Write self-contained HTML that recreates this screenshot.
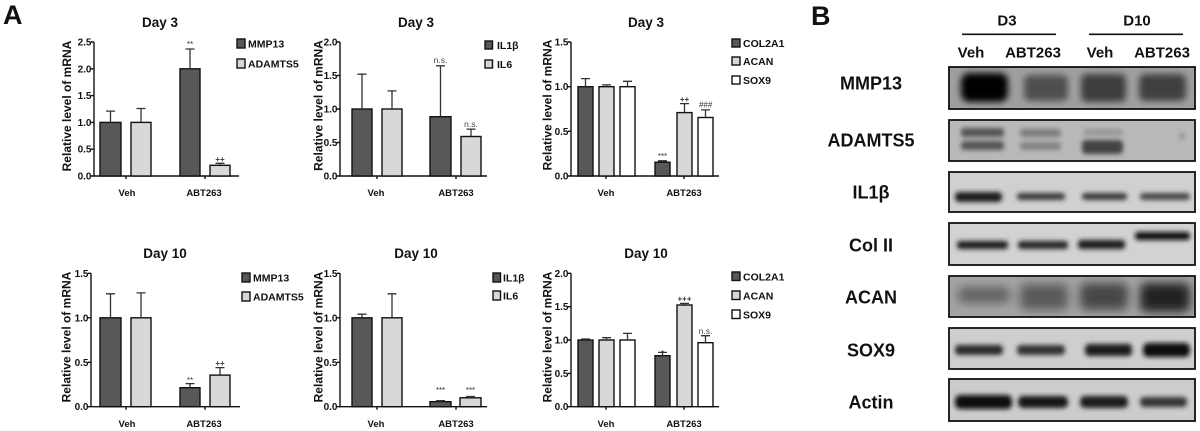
<!DOCTYPE html>
<html><head><meta charset="utf-8"><style>
html,body{margin:0;padding:0;background:#fff;}
svg{display:block;}
text{font-family:"Liberation Sans",Arial,sans-serif;}
.b{font-weight:bold;}
.tt{font-size:13.5px;font-weight:bold;text-anchor:middle;fill:#111;}
.tk{font-size:10px;font-weight:bold;text-anchor:end;fill:#111;}
.xl{font-size:9.5px;font-weight:bold;text-anchor:middle;fill:#111;}
.lg{font-size:10.5px;font-weight:bold;fill:#111;}
.yl{font-size:12px;font-weight:bold;text-anchor:middle;fill:#111;}
.sg{font-size:8px;text-anchor:middle;fill:#333;}
.ns{font-size:8.5px;text-anchor:middle;fill:#444;}
.ax{stroke:#111;stroke-width:1.4;fill:none;}
.dk{fill:#585858;stroke:#111;stroke-width:1.4;}
.lt{fill:#d8d8d8;stroke:#111;stroke-width:1.4;}
.wh{fill:#fff;stroke:#111;stroke-width:1.4;}
.eb{stroke:#333;stroke-width:1.3;fill:none;}
.wl{font-size:18px;font-weight:bold;text-anchor:middle;fill:#111;}
.wh2{font-size:15px;font-weight:bold;text-anchor:middle;fill:#111;}
.box{fill:none;stroke:#111;stroke-width:1.8;}
</style></head><body>
<svg width="1200" height="431" viewBox="0 0 1200 431" xmlns="http://www.w3.org/2000/svg">
<defs>
<filter id="f3" x="-50%" y="-100%" width="200%" height="300%"><feGaussianBlur stdDeviation="3.5"/></filter>
<filter id="f2" x="-50%" y="-100%" width="200%" height="300%"><feGaussianBlur stdDeviation="2.3"/></filter>
<filter id="f5" x="-50%" y="-100%" width="200%" height="300%"><feGaussianBlur stdDeviation="5"/></filter>
<clipPath id="c1"><rect x="949" y="67" width="246" height="42"/></clipPath>
<clipPath id="c2"><rect x="949" y="120" width="246" height="41"/></clipPath>
<clipPath id="c3"><rect x="949" y="172" width="246" height="40"/></clipPath>
<clipPath id="c4"><rect x="949" y="223" width="246" height="42"/></clipPath>
<clipPath id="c5"><rect x="949" y="276" width="246" height="41"/></clipPath>
<clipPath id="c6"><rect x="949" y="328" width="246" height="41"/></clipPath>
<clipPath id="c7"><rect x="949" y="379" width="246" height="42"/></clipPath>
</defs>

<!-- Panel labels -->
<text x="3" y="24" font-size="27" class="b" fill="#111">A</text>
<text x="811" y="25" font-size="27" class="b" fill="#111">B</text>

<!-- ===== Top chart 1 ===== -->
<text class="tt" x="160" y="27">Day 3</text>
<text class="yl" transform="translate(71,106) rotate(-90)">Relative level of mRNA</text>
<path class="ax" d="M94,42V176H239M91,42H94M91,68.8H94M91,95.6H94M91,122.4H94M91,149.2H94M91,176H94M126,176V179M205,176V179"/>
<text class="tk" x="91.5" y="45.5">2.5</text>
<text class="tk" x="91.5" y="72.3">2.0</text>
<text class="tk" x="91.5" y="99.1">1.5</text>
<text class="tk" x="91.5" y="125.9">1.0</text>
<text class="tk" x="91.5" y="152.7">0.5</text>
<text class="tk" x="91.5" y="179.5">0.0</text>
<rect class="dk" x="100" y="122.4" width="21" height="53.6"/>
<rect class="lt" x="131" y="122.4" width="20" height="53.6"/>
<rect class="dk" x="180" y="68.8" width="20" height="107.2"/>
<rect class="lt" x="210" y="165.3" width="20" height="10.7"/>
<path class="eb" d="M110.5,122.4V111.1M106,111.1H115M141,122.4V108.5M136.5,108.5H145.5M190,68.8V49M185.5,49H194.5M220,165.3V163.3M215.5,163.3H224.5"/>
<text class="sg" x="190" y="47">**</text>
<text class="sg b" x="220" y="162">++</text>
<text class="xl" x="127" y="196">Veh</text>
<text class="xl" x="204" y="196">ABT263</text>
<rect x="237" y="39" width="8" height="9" class="dk"/>
<text class="lg" x="248" y="47.5">MMP13</text>
<rect x="237" y="59" width="8" height="9" class="lt"/>
<text class="lg" x="248" y="67.5">ADAMTS5</text>

<!-- ===== Top chart 2 ===== -->
<text class="tt" x="416" y="27">Day 3</text>
<text class="yl" transform="translate(322.5,105.5) rotate(-90)">Relative level of mRNA</text>
<path class="ax" d="M340,42V176H487M337,42H340M337,75.5H340M337,109H340M337,142.5H340M337,176H340M377,176V179M456,176V179"/>
<text class="tk" x="337.5" y="45.5">2.0</text>
<text class="tk" x="337.5" y="79">1.5</text>
<text class="tk" x="337.5" y="112.5">1.0</text>
<text class="tk" x="337.5" y="146">0.5</text>
<text class="tk" x="337.5" y="179.5">0.0</text>
<rect class="dk" x="352" y="109" width="20" height="67"/>
<rect class="lt" x="382" y="109" width="20" height="67"/>
<rect class="dk" x="430" y="116.7" width="21" height="59.3"/>
<rect class="lt" x="461" y="136.5" width="20" height="39.5"/>
<path class="eb" d="M362,109V74.2M357.5,74.2H366.5M392,109V90.9M387.5,90.9H396.5M440.5,116.7V65.8M436,65.8H445M471,136.5V129.1M466.5,129.1H475.5"/>
<text class="ns" x="440.5" y="63">n.s.</text>
<text class="ns" x="471" y="127">n.s.</text>
<text class="xl" x="376" y="196">Veh</text>
<text class="xl" x="456" y="196">ABT263</text>
<rect x="485" y="41" width="7.5" height="8" class="dk"/>
<text class="lg" x="497" y="49">IL1β</text>
<rect x="485" y="60" width="7.5" height="8" class="lt"/>
<text class="lg" x="497" y="68">IL6</text>

<!-- ===== Top chart 3 ===== -->
<text class="tt" x="646" y="27">Day 3</text>
<text class="yl" transform="translate(551.5,105) rotate(-90)">Relative level of mRNA</text>
<path class="ax" d="M571,42V176H719M568,42H571M568,86.7H571M568,131.3H571M568,176H571M606,176V179M684,176V179"/>
<text class="tk" x="568.5" y="45.5">1.5</text>
<text class="tk" x="568.5" y="90.2">1.0</text>
<text class="tk" x="568.5" y="134.8">0.5</text>
<text class="tk" x="568.5" y="179.5">0.0</text>
<rect class="dk" x="578" y="86.7" width="15" height="89.3"/>
<rect class="lt" x="599" y="86.7" width="15" height="89.3"/>
<rect class="wh" x="620" y="86.7" width="15" height="89.3"/>
<rect class="dk" x="655" y="162.2" width="15" height="13.8"/>
<rect class="lt" x="677" y="112.6" width="15" height="63.4"/>
<rect class="wh" x="698" y="117.5" width="15" height="58.5"/>
<path class="eb" d="M585.5,86.7V78.6M581,78.6H590M606.5,86.7V84.9M602,84.9H611M627.5,86.7V81.3M623,81.3H632M662.5,162.2V160.8M658,160.8H667M684.5,112.6V103.6M680,103.6H689M705.5,117.5V109.9M701,109.9H710"/>
<text class="sg" x="662.5" y="159">***</text>
<text class="sg b" x="684.5" y="102">++</text>
<text class="sg" x="705.5" y="107.5" font-style="italic" fill="#666">###</text>
<text class="xl" x="606" y="196">Veh</text>
<text class="xl" x="684" y="196">ABT263</text>
<rect x="732" y="39" width="8" height="8" class="dk"/>
<text class="lg" x="743" y="47">COL2A1</text>
<rect x="732" y="57" width="8" height="8" class="lt"/>
<text class="lg" x="743" y="65">ACAN</text>
<rect x="732" y="76" width="8" height="8" class="wh"/>
<text class="lg" x="743" y="84">SOX9</text>

<!-- ===== Bottom chart 1 ===== -->
<text class="tt" x="165" y="258">Day 10</text>
<text class="yl" transform="translate(70.5,337) rotate(-90)">Relative level of mRNA</text>
<path class="ax" d="M91,273.3V406.7H240M88,273.3H91M88,317.8H91M88,362.3H91M88,406.7H91M126,406.7V409.7M205,406.7V409.7"/>
<text class="tk" x="88.5" y="276.8">1.5</text>
<text class="tk" x="88.5" y="321.3">1.0</text>
<text class="tk" x="88.5" y="365.8">0.5</text>
<text class="tk" x="88.5" y="410.2">0.0</text>
<rect class="dk" x="100" y="317.8" width="21" height="88.9"/>
<rect class="lt" x="131" y="317.8" width="20" height="88.9"/>
<rect class="dk" x="180" y="387.7" width="20" height="19"/>
<rect class="lt" x="210" y="375.1" width="20" height="31.6"/>
<path class="eb" d="M110.5,317.8V293.8M106,293.8H115M141,317.8V292.9M136.5,292.9H145.5M190,387.7V383.6M185.5,383.6H194.5M220,375.1V367.6M215.5,367.6H224.5"/>
<text class="sg" x="190" y="383">**</text>
<text class="sg b" x="220" y="366">++</text>
<text class="xl" x="127" y="427">Veh</text>
<text class="xl" x="204" y="427">ABT263</text>
<rect x="242" y="273" width="8" height="9" class="dk"/>
<text class="lg" x="253" y="281.5">MMP13</text>
<rect x="242" y="292" width="8" height="9" class="lt"/>
<text class="lg" x="253" y="300.5">ADAMTS5</text>

<!-- ===== Bottom chart 2 ===== -->
<text class="tt" x="416" y="258">Day 10</text>
<text class="yl" transform="translate(322.5,337) rotate(-90)">Relative level of mRNA</text>
<path class="ax" d="M340,273.3V406.7H487M337,273.3H340M337,317.8H340M337,362.3H340M337,406.7H340M377,406.7V409.7M456,406.7V409.7"/>
<text class="tk" x="337.5" y="276.8">1.5</text>
<text class="tk" x="337.5" y="321.3">1.0</text>
<text class="tk" x="337.5" y="365.8">0.5</text>
<text class="tk" x="337.5" y="410.2">0.0</text>
<rect class="dk" x="352" y="317.8" width="20" height="88.9"/>
<rect class="lt" x="382" y="317.8" width="20" height="88.9"/>
<rect class="dk" x="430" y="401.7" width="21" height="5"/>
<rect class="lt" x="460" y="397.8" width="21" height="8.9"/>
<path class="eb" d="M362,317.8V314.2M357.5,314.2H366.5M392,317.8V293.8M387.5,293.8H396.5M440.5,401.7V400.7M436,400.7H445M470.5,397.8V396.5M466,396.5H475"/>
<text class="sg" x="440.5" y="393">***</text>
<text class="sg" x="470.5" y="393">***</text>
<text class="xl" x="376" y="427">Veh</text>
<text class="xl" x="456" y="427">ABT263</text>
<rect x="493" y="273" width="7.5" height="9" class="dk"/>
<text class="lg" x="503" y="281.5">IL1β</text>
<rect x="493" y="291" width="7.5" height="9" class="lt"/>
<text class="lg" x="503" y="299.5">IL6</text>

<!-- ===== Bottom chart 3 ===== -->
<text class="tt" x="646" y="258">Day 10</text>
<text class="yl" transform="translate(551.5,337) rotate(-90)">Relative level of mRNA</text>
<path class="ax" d="M571,273.3V406.7H719M568,273.3H571M568,306.7H571M568,340H571M568,373.4H571M568,406.7H571M606,406.7V409.7M684,406.7V409.7"/>
<text class="tk" x="568.5" y="276.8">2.0</text>
<text class="tk" x="568.5" y="310.2">1.5</text>
<text class="tk" x="568.5" y="343.5">1.0</text>
<text class="tk" x="568.5" y="376.9">0.5</text>
<text class="tk" x="568.5" y="410.2">0.0</text>
<rect class="dk" x="578" y="340" width="15" height="66.7"/>
<rect class="lt" x="599" y="340" width="15" height="66.7"/>
<rect class="wh" x="620" y="340" width="15" height="66.7"/>
<rect class="dk" x="655" y="355.7" width="15" height="51"/>
<rect class="lt" x="677" y="305" width="15" height="101.7"/>
<rect class="wh" x="698" y="342.7" width="15" height="64"/>
<path class="eb" d="M585.5,340V339M581,339H590M606.5,340V337.7M602,337.7H611M627.5,340V333.4M623,333.4H632M662.5,355.7V352.4M658,352.4H667M684.5,305V303.4M680,303.4H689M705.5,342.7V335.7M701,335.7H710"/>
<text class="sg" x="662.5" y="356">*</text>
<text class="sg b" x="684.5" y="301.5">+++</text>
<text class="ns" x="705.5" y="334">n.s.</text>
<text class="xl" x="606" y="427">Veh</text>
<text class="xl" x="684" y="427">ABT263</text>
<rect x="732" y="272" width="8" height="8.5" class="dk"/>
<text class="lg" x="743" y="280.5">COL2A1</text>
<rect x="732" y="291" width="8" height="8.5" class="lt"/>
<text class="lg" x="743" y="299.5">ACAN</text>
<rect x="732" y="310" width="8" height="8.5" class="wh"/>
<text class="lg" x="743" y="318.5">SOX9</text>

<!-- ===== Panel B: western blot ===== -->
<text class="wh2" x="1007" y="25.5">D3</text>
<text class="wh2" x="1137" y="25.5">D10</text>
<path d="M962,34.3H1056M1089,34.3H1183" stroke="#111" stroke-width="1.6"/>
<text class="wh2" x="971" y="57.5">Veh</text>
<text class="wh2" x="1033" y="57.5">ABT263</text>
<text class="wh2" x="1100" y="57.5">Veh</text>
<text class="wh2" x="1162" y="57.5">ABT263</text>

<text class="wl" x="871" y="89.5">MMP13</text>
<text class="wl" x="871" y="146.5">ADAMTS5</text>
<text class="wl" x="871" y="198.5">IL1β</text>
<text class="wl" x="871" y="251.5">Col II</text>
<text class="wl" x="871" y="303.5">ACAN</text>
<text class="wl" x="871" y="356.5">SOX9</text>
<text class="wl" x="871" y="408.5">Actin</text>

<!-- MMP13 -->
<g clip-path="url(#c1)">
<rect x="949" y="67" width="246" height="42" fill="#a0a0a0"/>
<g filter="url(#f3)">
<rect x="961" y="73" width="47" height="29" rx="8" fill="#030303"/>
<rect x="1024" y="75" width="44" height="26" rx="6" fill="#505050"/>
<rect x="1081" y="74" width="45" height="28" rx="6" fill="#3c3c3c"/>
<rect x="1139" y="74" width="47" height="27" rx="6" fill="#404040"/>
</g></g>
<rect class="box" x="949" y="67" width="246" height="42"/>

<!-- ADAMTS5 -->
<g clip-path="url(#c2)">
<rect x="949" y="120" width="246" height="41" fill="#b9b9b9"/>
<g filter="url(#f2)">
<rect x="961" y="128" width="43" height="9" rx="3" fill="#545454"/>
<rect x="961" y="141" width="43" height="9" rx="3" fill="#555"/>
<rect x="1020" y="129" width="41" height="8" rx="3" fill="#7c7c7c"/>
<rect x="1020" y="142" width="41" height="8" rx="3" fill="#828282"/>
<rect x="1083" y="129" width="40" height="7" rx="3" fill="#979797"/>
<rect x="1082" y="140" width="41" height="14" rx="4" fill="#424242"/>
<circle cx="1182" cy="136" r="3" fill="#8e8e8e"/>
</g></g>
<rect class="box" x="949" y="120" width="246" height="41"/>

<!-- IL1b -->
<g clip-path="url(#c3)">
<rect x="949" y="172" width="246" height="40" fill="#d0d0d0"/>
<g filter="url(#f2)">
<rect x="955" y="192" width="47" height="10" rx="4" fill="#1a1a1a"/>
<rect x="1017" y="193" width="48" height="7" rx="3" fill="#3a3a3a"/>
<rect x="1082" y="193" width="45" height="7" rx="3" fill="#3a3a3a"/>
<rect x="1140" y="193" width="50" height="7" rx="3" fill="#474747"/>
</g></g>
<rect class="box" x="949" y="172" width="246" height="40"/>

<!-- Col II -->
<g clip-path="url(#c4)">
<rect x="949" y="223" width="246" height="42" fill="#d2d2d2"/>
<g filter="url(#f2)">
<rect x="957" y="241" width="51" height="8" rx="3" fill="#1e1e1e"/>
<rect x="1018" y="241" width="50" height="8" rx="3" fill="#282828"/>
<rect x="1078" y="240" width="47" height="9" rx="3" fill="#1e1e1e"/>
<rect x="1135" y="232" width="55" height="8" rx="3" fill="#111"/>
</g></g>
<rect class="box" x="949" y="223" width="246" height="42"/>

<!-- ACAN -->
<g clip-path="url(#c5)">
<rect x="949" y="276" width="246" height="41" fill="#a4a4a4"/>
<g filter="url(#f5)">
<rect x="958" y="287" width="52" height="16" rx="6" fill="#626262"/>
<rect x="1020" y="284" width="48" height="26" rx="6" fill="#5a5a5a"/>
<rect x="1080" y="283" width="48" height="27" rx="6" fill="#464646"/>
<rect x="1140" y="283" width="50" height="29" rx="6" fill="#242424"/>
</g></g>
<rect class="box" x="949" y="276" width="246" height="41"/>

<!-- SOX9 -->
<g clip-path="url(#c6)">
<rect x="949" y="328" width="246" height="41" fill="#cecece"/>
<g filter="url(#f2)">
<rect x="955" y="345" width="48" height="10" rx="4" fill="#2a2a2a"/>
<rect x="1017" y="345" width="48" height="10" rx="4" fill="#333"/>
<rect x="1085" y="344" width="47" height="12" rx="4" fill="#1a1a1a"/>
<rect x="1143" y="343" width="47" height="14" rx="5" fill="#111"/>
</g></g>
<rect class="box" x="949" y="328" width="246" height="41"/>

<!-- Actin -->
<g clip-path="url(#c7)">
<rect x="949" y="379" width="246" height="42" fill="#cccccc"/>
<g filter="url(#f2)">
<rect x="955" y="395" width="57" height="14" rx="5" fill="#080808"/>
<rect x="1018" y="396" width="50" height="12" rx="5" fill="#151515"/>
<rect x="1080" y="396" width="48" height="12" rx="5" fill="#1c1c1c"/>
<rect x="1140" y="397" width="47" height="10" rx="4" fill="#353535"/>
</g></g>
<rect class="box" x="949" y="379" width="246" height="42"/>
</svg>
</body></html>
